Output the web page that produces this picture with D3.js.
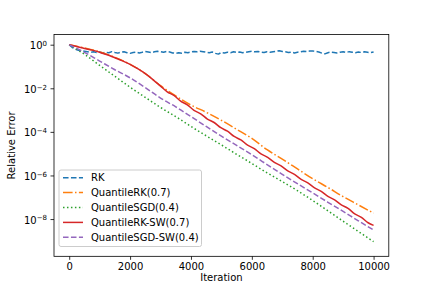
<!DOCTYPE html>
<html>
<head>
<meta charset="utf-8">
<script src="https://cdn.jsdelivr.net/npm/d3@7"></script>
<style>
  body { margin: 0; background: #fff; }
  svg { font-family: "DejaVu Sans", sans-serif; }
</style>
</head>
<body>
<svg id="chart" width="432" height="288"></svg>
<script>
// chart data (log10 of relative error)
const rkIter = d3.range(0, 10001, 100);
const rkVals = [
  1.0, 0.74, 0.62, 0.56, 0.52, 0.50, 0.48, 0.45, 0.47, 0.44,
  0.46, 0.42, 0.45, 0.43, 0.48, 0.44, 0.41, 0.45, 0.47, 0.43,
  0.40, 0.44, 0.46, 0.42, 0.45, 0.49, 0.46, 0.43, 0.47, 0.50,
  0.48, 0.45, 0.49, 0.46, 0.42, 0.40, 0.43, 0.41, 0.45, 0.43,
  0.46, 0.49, 0.47, 0.50, 0.48, 0.45, 0.43, 0.46, 0.40, 0.37,
  0.44, 0.42, 0.45, 0.43, 0.47, 0.44, 0.46, 0.43, 0.45, 0.48,
  0.50, 0.47, 0.49, 0.46, 0.44, 0.47, 0.45, 0.48, 0.50, 0.53,
  0.49, 0.47, 0.44, 0.46, 0.42, 0.45, 0.47, 0.50, 0.48, 0.51,
  0.52, 0.49, 0.46, 0.41, 0.38, 0.43, 0.46, 0.44, 0.42, 0.45,
  0.47, 0.44, 0.48, 0.45, 0.43, 0.46, 0.44, 0.47, 0.45, 0.43, 0.46
];

const qrkIter = [0, 500, 1000, 1500, 2000, 2500, 3000, 3500, 4000, 4500, 5000, 5500, 6000, 6500, 7000, 7500, 8000, 8500, 9000, 9500, 10000];
const qrkLog  = [0, -0.15, -0.33, -0.58, -0.9, -1.33, -1.88, -2.35, -2.77, -3.1, -3.47, -3.88, -4.3, -4.82, -5.25, -5.7, -6.15, -6.55, -6.97, -7.35, -7.73];

const qsgdIter = [0, 250, 500, 1000, 1500, 2000, 2500, 3000, 3500, 4000, 4500, 5000, 5500, 6000, 6500, 7000, 7500, 8000, 8500, 9000, 9500, 10000];
const qsgdLog  = [0, -0.22, -0.44, -0.95, -1.45, -1.95, -2.42, -2.88, -3.3, -3.75, -4.18, -4.6, -5.03, -5.45, -5.88, -6.28, -6.7, -7.15, -7.62, -8.1, -8.57, -9.04];

const qrkswIter = [0, 250, 500, 750, 1000, 1250, 1500, 1750, 2000, 2250, 2500, 2750, 3000,
  3220, 3440, 3660, 3880, 4100, 4320, 4540, 4760, 4980, 5200, 5420, 5640, 5860, 6080,
  6300, 6520, 6740, 6960, 7180, 7400, 7620, 7840, 8060, 8280, 8500, 8720, 8940, 9160,
  9380, 9600, 9820, 10000];
const qrkswLog = [0, -0.08, -0.17, -0.25, -0.35, -0.46, -0.6, -0.74, -0.9, -1.1, -1.33, -1.6, -1.9,
  -2.16, -2.33, -2.59, -2.76, -3.01, -3.17, -3.41, -3.57, -3.81, -3.97, -4.21, -4.37, -4.61, -4.77,
  -5.01, -5.17, -5.40, -5.56, -5.79, -5.95, -6.18, -6.34, -6.57, -6.73, -6.96, -7.12, -7.35, -7.51,
  -7.76, -7.92, -8.17, -8.29];

const qsgdswIter = [0, 250, 500, 1000, 1500, 2000, 2500, 3000, 3500, 4000, 4500, 5000, 5500, 6000, 6500, 7000, 7500, 8000, 8500, 9000, 9500, 10000];
const qsgdswLog  = [0, -0.17, -0.35, -0.75, -1.15, -1.52, -1.97, -2.45, -2.85, -3.3, -3.75, -4.2, -4.62, -5.05, -5.5, -5.95, -6.38, -6.8, -7.23, -7.65, -8.08, -8.5];

const seriesNames = ["RK", "QuantileRK(0.7)", "QuantileSGD(0.4)", "QuantileRK-SW(0.7)", "QuantileSGD-SW(0.4)"];
const xTicks = [0, 2000, 4000, 6000, 8000, 10000];
const yTickExps = [0, -2, -4, -6, -8];

// layout, matplotlib default subplot params
const mLeft = 54, mRight = 388.8, mTop = 34.56, mBottom = 256.32;

const svg = d3.select("#chart");

const x = d3.scaleLinear().domain([-500, 10500]).range([mLeft, mRight]);
const y = d3.scaleLog().domain([Math.pow(10, -9.71), Math.pow(10, 0.465)]).range([mBottom, mTop]);

const series = [
  { name: seriesNames[0], pts: rkIter.map((it, i) => [it, rkVals[i]]), color: "#1f77b4", dash: "5.55,2.4", curve: d3.curveLinear },
  { name: seriesNames[1], pts: qrkIter.map((it, i) => [it, Math.pow(10, qrkLog[i])]), color: "#ff7f0e", dash: "9.6,2.4,1.5,2.4", curve: d3.curveMonotoneX },
  { name: seriesNames[2], pts: qsgdIter.map((it, i) => [it, Math.pow(10, qsgdLog[i])]), color: "#2ca02c", dash: "1.5,2.475", curve: d3.curveMonotoneX },
  { name: seriesNames[3], pts: qrkswIter.map((it, i) => [it, Math.pow(10, qrkswLog[i])]), color: "#d62728", dash: null, curve: d3.curveMonotoneX },
  { name: seriesNames[4], pts: qsgdswIter.map((it, i) => [it, Math.pow(10, qsgdswLog[i])]), color: "#9467bd", dash: "5.55,2.4", curve: d3.curveMonotoneX }
];

svg.append("defs").append("clipPath").attr("id", "clip")
  .append("rect").attr("x", mLeft).attr("y", mTop).attr("width", mRight - mLeft).attr("height", mBottom - mTop);

const plot = svg.append("g").attr("clip-path", "url(#clip)");

// draw lines
series.forEach(s => {
  const line = d3.line().x(d => x(d[0])).y(d => y(d[1])).curve(s.curve);
  plot.append("path")
    .datum(s.pts)
    .attr("fill", "none")
    .attr("stroke", s.color)
    .attr("stroke-width", 1.5)
    .attr("stroke-dasharray", s.dash)
    .attr("stroke-linejoin", "round")
    .attr("d", line);
});

// x axis
const xAxis = svg.append("g")
  .attr("transform", `translate(0,${mBottom})`)
  .call(d3.axisBottom(x).tickValues(xTicks).tickSize(3.5).tickPadding(3.5).tickFormat(d3.format("d")));
xAxis.select(".domain").remove();
xAxis.selectAll("line").attr("stroke", "#000").attr("stroke-width", 0.8);
xAxis.selectAll("text").attr("fill", "#000").style("font-size", "10px").style("font-family", "DejaVu Sans");

// y axis with mathtext-like labels
const yAxis = svg.append("g")
  .attr("transform", `translate(${mLeft},0)`)
  .call(d3.axisLeft(y).tickValues(yTickExps.map(e => Math.pow(10, e))).tickSize(3.5).tickPadding(3.5).tickFormat(""));
yAxis.select(".domain").remove();
yAxis.selectAll("line").attr("stroke", "#000").attr("stroke-width", 0.8);
yAxis.selectAll(".tick").each(function(d, i) {
  const t = d3.select(this).select("text")
    .attr("fill", "#000")
    .style("font-size", "10px")
    .style("font-family", "DejaVu Sans")
    .attr("dy", "0.4em");
  const e = yTickExps[i];
  t.append("tspan").text("10");
  t.append("tspan").attr("dy", "-0.45em").style("font-size", "7px").text(e === 0 ? "0" : "\u2212" + Math.abs(e));
});

// spines
svg.append("rect")
  .attr("x", mLeft).attr("y", mTop)
  .attr("width", mRight - mLeft).attr("height", mBottom - mTop)
  .attr("fill", "none").attr("stroke", "#000").attr("stroke-width", 0.8);

// axis labels
svg.append("text")
  .attr("x", (mLeft + mRight) / 2).attr("y", 281)
  .attr("text-anchor", "middle").style("font-size", "10px")
  .text("Iteration");
svg.append("text")
  .attr("transform", `rotate(-90, 15, ${(mTop + mBottom) / 2})`)
  .attr("x", 15).attr("y", (mTop + mBottom) / 2)
  .attr("text-anchor", "middle").style("font-size", "10px")
  .text("Relative Error");

// legend
const lg = svg.append("g");
lg.append("rect")
  .attr("x", 59).attr("y", 170).attr("width", 142.5).attr("height", 76.5)
  .attr("rx", 2).attr("fill", "#fff").attr("fill-opacity", 0.8)
  .attr("stroke", "#cccccc").attr("stroke-width", 1);
series.forEach((s, i) => {
  const yy = 177.7 + i * 14.9;
  lg.append("line")
    .attr("x1", 63).attr("x2", 83).attr("y1", yy).attr("y2", yy)
    .attr("stroke", s.color).attr("stroke-width", 1.5)
    .attr("stroke-dasharray", s.dash);
  lg.append("text")
    .attr("x", 91).attr("y", yy).attr("dy", "0.35em")
    .style("font-size", "10px")
    .text(s.name);
});
</script>
</body>
</html>
